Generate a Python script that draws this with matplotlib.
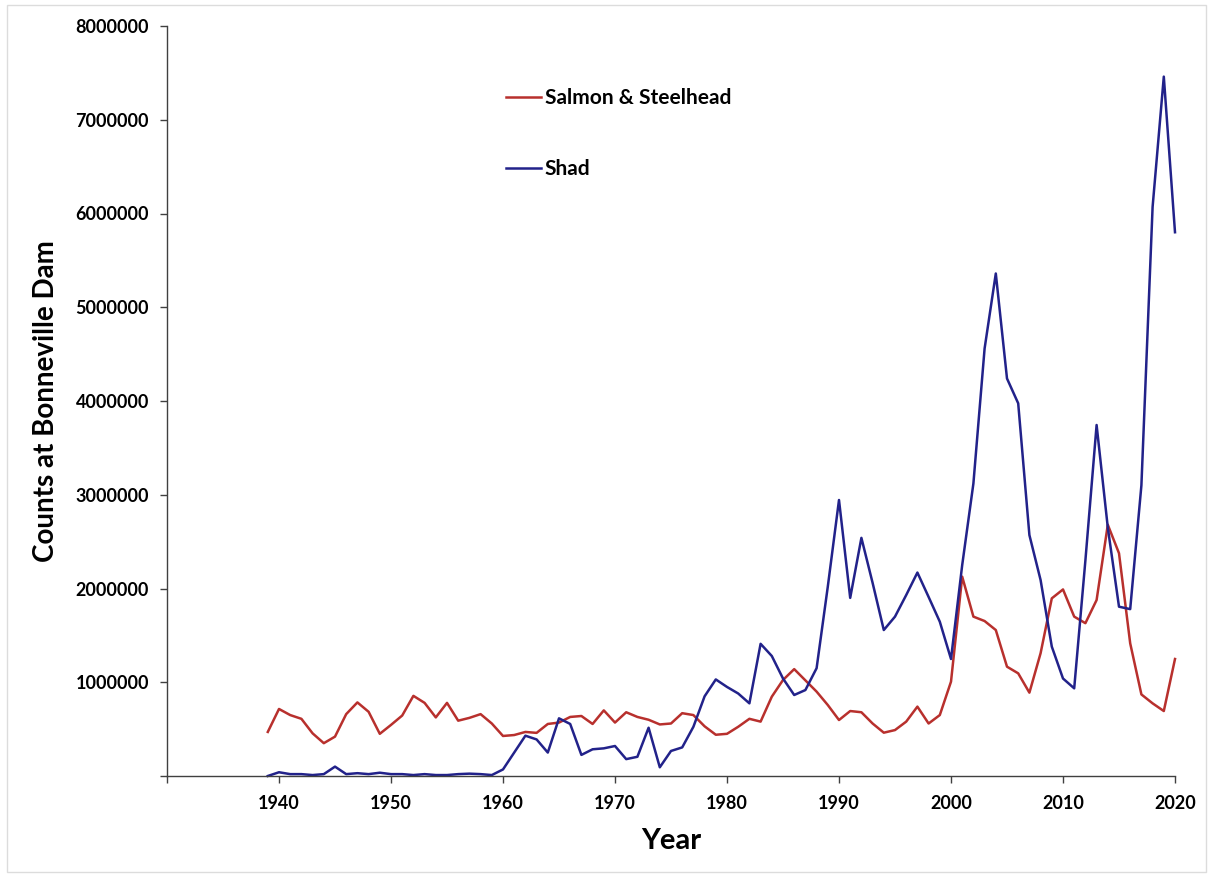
import numpy as np
import matplotlib.pyplot as plt
from matplotlib.patches import Rectangle

# counts at Bonneville Dam, millions of fish, 1939-2020
years = np.arange(1939, 2021)
salmon = [0.47,
          0.715, 0.65, 0.61, 0.455, 0.35, 0.42, 0.66, 0.785, 0.685, 0.45,
          0.545, 0.645, 0.855, 0.78, 0.625, 0.78, 0.59, 0.62, 0.66, 0.56,
          0.427, 0.437, 0.47, 0.46, 0.555, 0.57, 0.63, 0.64, 0.555, 0.70,
          0.57, 0.68, 0.63, 0.60, 0.55, 0.56, 0.67, 0.65, 0.53, 0.44,
          0.45, 0.525, 0.61, 0.58, 0.846, 1.024, 1.14, 1.02, 0.90, 0.757,
          0.597, 0.693, 0.68, 0.56, 0.462, 0.49, 0.58, 0.74, 0.56, 0.65,
          1.006, 2.126, 1.70, 1.653, 1.557, 1.166, 1.095, 0.889, 1.31, 1.895,
          1.99, 1.70, 1.63, 1.877, 2.68, 2.376, 1.415, 0.87, 0.775, 0.693,
          1.248]
shad = [0.0,
        0.04, 0.02, 0.02, 0.01, 0.02, 0.10, 0.02, 0.03, 0.02, 0.035,
        0.02, 0.02, 0.01, 0.02, 0.01, 0.01, 0.02, 0.025, 0.02, 0.01,
        0.07, 0.25, 0.43, 0.39, 0.25, 0.615, 0.555, 0.225, 0.285, 0.295,
        0.32, 0.18, 0.205, 0.515, 0.093, 0.267, 0.305, 0.525, 0.85, 1.03,
        0.95, 0.88, 0.775, 1.41, 1.28, 1.04, 0.864, 0.917, 1.15, 2.02,
        2.944, 1.90, 2.54, 2.06, 1.557, 1.70, 1.93, 2.17, 1.91, 1.646,
        1.248, 2.25, 3.12, 4.56, 5.36, 4.24, 3.975, 2.57, 2.09, 1.38,
        1.04, 0.935, 2.3, 3.744, 2.65, 1.806, 1.78, 3.1, 6.07, 7.46,
        5.80]
salmon = np.array(salmon) * 1e6
shad = np.array(shad) * 1e6

xticks = np.arange(1930, 2021, 10)
yticks = np.arange(0, 8000001, 1000000)

plt.rcParams['font.family'] = ['Lato', 'DejaVu Sans']
plt.rcParams['font.weight'] = 'bold'

fig = plt.figure(figsize=(12.12, 8.77), dpi=100, facecolor='w')
ax = fig.add_axes([167/1212, 1 - 776/877, 1008/1212, 750/877])

ax.plot(years, salmon, color='#B8302D', lw=1.8, label='Salmon & Steelhead', clip_on=False)
ax.plot(years, shad, color='#22228A', lw=1.8, label='Shad', clip_on=False)

ax.set_xlim(1930, 2020)
ax.set_ylim(0, 8000000)
ax.set_xticks(xticks)
ax.set_xticklabels([''] + [str(v) for v in xticks[1:]])
ax.set_yticks(yticks)
ax.set_yticklabels([''] + [str(v) for v in yticks[1:]])
ax.tick_params(axis='both', labelsize=13, length=5, width=1, color='#404040')
ax.tick_params(axis='x', pad=9)
ax.tick_params(axis='y', pad=8)

for s in ['top', 'right']:
    ax.spines[s].set_visible(False)
for s in ['left', 'bottom']:
    ax.spines[s].set_color('#404040')
    ax.spines[s].set_linewidth(1.0)

ax.set_xlabel('Year', fontsize=21, fontweight='bold', labelpad=11)
ax.set_ylabel('Counts at Bonneville Dam', fontsize=20, fontweight='bold', labelpad=12)

ax.legend(loc='upper left', bbox_to_anchor=(506/1212, 1 - 88/877),
          bbox_transform=fig.transFigure, frameon=False, fontsize=15,
          handlelength=1.7, handletextpad=0.15, labelspacing=2.45,
          borderpad=0, borderaxespad=0)

# light frame round the picture
fig.patches.append(Rectangle((7/1212, 5/877), 1199/1212, 867/877, transform=fig.transFigure,
                             fill=False, ec='#dcdcdc', lw=1))

fig.savefig('out.png', dpi=100)
